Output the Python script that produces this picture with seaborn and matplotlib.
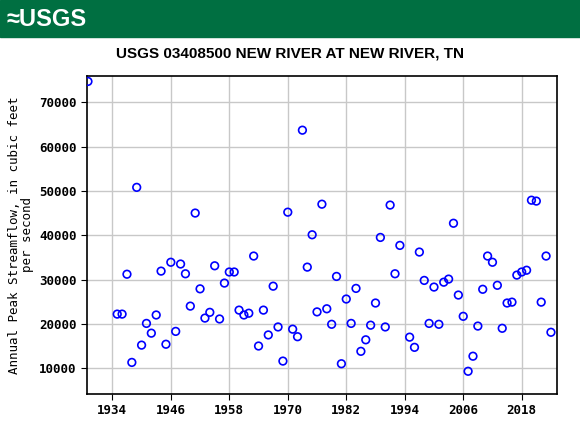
import matplotlib
matplotlib.use("Agg")
import matplotlib.pyplot as plt
import seaborn as sns
import pandas as pd

# Annual peak streamflow, USGS 03408500
years = [1929, 1935, 1936, 1937, 1938, 1939, 1940, 1941, 1942, 1943,
         1944, 1945, 1946, 1947, 1948, 1949, 1950, 1951, 1952, 1953,
         1954, 1955, 1956, 1957, 1958, 1959, 1960, 1961, 1962, 1963,
         1964, 1965, 1966, 1967, 1968, 1969, 1970, 1971, 1972, 1973,
         1974, 1975, 1976, 1977, 1978, 1979, 1980, 1981, 1982, 1983,
         1984, 1985, 1986, 1987, 1988, 1989, 1990, 1991, 1992, 1993,
         1995, 1996, 1997, 1998, 1999, 2000, 2001, 2002, 2003, 2004,
         2005, 2006, 2007, 2008, 2009, 2010, 2011, 2012, 2013, 2014,
         2015, 2016, 2017, 2018, 2019, 2020, 2021, 2022, 2023, 2024]
peaks = [74700, 22200, 22200, 31200, 11300, 50800, 15200, 20100, 17900, 22000,
         31900, 15400, 33900, 18300, 33500, 31300, 24000, 45000, 27900, 21300,
         22600, 33100, 21100, 29200, 31700, 31700, 23100, 22000, 22400, 35300,
         15000, 23100, 17500, 28500, 19300, 11600, 45200, 18800, 17100, 63700,
         32800, 40100, 22700, 47000, 23400, 19900, 30700, 11000, 25600, 20100,
         28000, 13800, 16400, 19700, 24700, 39500, 19300, 46800, 31300, 37700,
         17000, 14700, 36200, 29800, 20100, 28300, 19900, 29400, 30100, 42700,
         26500, 21700, 9300, 12700, 19500, 27800, 35300, 33900, 28700, 19000,
         24700, 24900, 31000, 31700, 32100, 47900, 47700, 24900, 35300, 18100]

df = pd.DataFrame({"year": years, "peak": peaks})

fig = plt.figure(figsize=(5.8, 4.3), dpi=100)
ax = fig.add_axes([0.150, 0.084, 0.810, 0.739])

sns.scatterplot(data=df, x="year", y="peak", ax=ax, marker="o", s=30,
                facecolor="none", edgecolor="blue", linewidth=1.2, zorder=3)

ax.set_xlim(1928.8, 2025.2)
ax.set_ylim(4200, 75900)
ax.set_xticks(range(1934, 2025, 12))
ax.set_yticks(range(10000, 70001, 10000))
ax.grid(True, color="#c8c8c8", linewidth=1)
ax.set_axisbelow(True)
for s in ax.spines.values():
    s.set_linewidth(1.2)
ax.tick_params(length=4, labelsize=9)
for lbl in ax.get_xticklabels() + ax.get_yticklabels():
    lbl.set_family("DejaVu Sans Mono")
    lbl.set_weight("bold")
ax.set_xlabel("")
ax.set_ylabel("Annual Peak Streamflow, in cubic feet\nper second",
              family="DejaVu Sans Mono", fontsize=9, linespacing=1.0)

# USGS banner
fig.patches.append(plt.Rectangle((0, 1 - 37 / 430), 1, 37 / 430,
                                 transform=fig.transFigure,
                                 color="#006F41", zorder=0))
fig.text(0.012, 1 - 19 / 430, "\u2248USGS", color="white", fontsize=17,
         weight="bold", va="center", family="Liberation Sans")
fig.text(0.50, 1 - 53 / 430, "USGS 03408500 NEW RIVER AT NEW RIVER, TN",
         ha="center", va="center", fontsize=11, weight="bold",
         family="Liberation Sans")

fig.savefig("out.png", dpi=100)
